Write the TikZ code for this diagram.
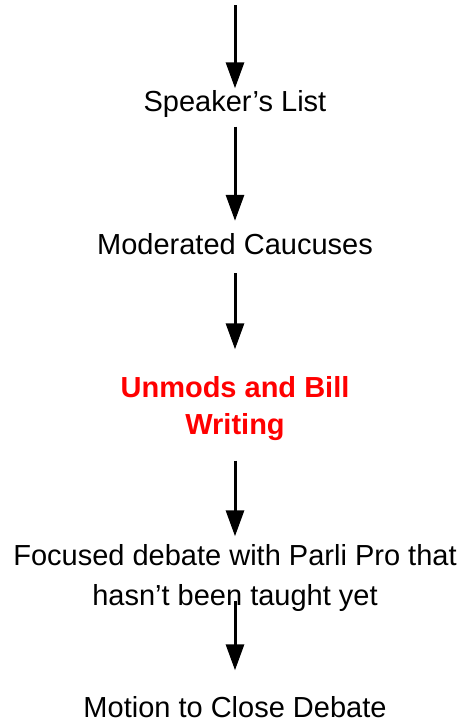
\documentclass[tikz,border=0pt]{standalone}
\usepackage{fontspec}
\setmainfont{Liberation Sans}
\usetikzlibrary{arrows.meta,positioning}
\definecolor{unmodred}{RGB}{255,0,0}

\begin{document}
\begin{tikzpicture}[x=1pt,y=-1pt]

\tikzset{step box/.style={font=\fontsize{29}{40}\selectfont,align=center,inner sep=0pt,text depth=0pt},
hot box/.style={step box,font=\fontsize{29}{37}\selectfont\bfseries,text=unmodred},
flow/.style={line width=3pt,-{Triangle[length=26pt,width=18pt]}}}

\useasboundingbox (0,0) rectangle (465,720);

% Steps
\node (speak) [step box] at (235,101) {Speaker’s List};
\node (mod) [step box] at (235,243.5) {Moderated Caucuses};
\node (unmod) [hot box] at (235,405.5) {Unmods and Bill\\Writing};
\node (focus) [step box] at (235,575) {Focused debate with Parli Pro that\\hasn’t been taught yet};
\node (close) [step box] at (235,707) {Motion to Close Debate};

% Arrows
\coordinate (top) at (235,5);
\draw[flow,shorten >=2pt] (top) -- (speak.north);
\draw[flow,shorten <=15pt,shorten >=12pt] (speak.south) -- (mod.north);
\draw[flow,shorten <=19pt,shorten >=27pt] (mod.south) -- (unmod.north);
\draw[flow,shorten <=26pt,shorten >=8pt] (unmod.south) -- (focus.north);
\draw[flow,shorten <=-5pt,shorten >=26pt] (focus.south) -- (close.north);

\end{tikzpicture}
\end{document}
